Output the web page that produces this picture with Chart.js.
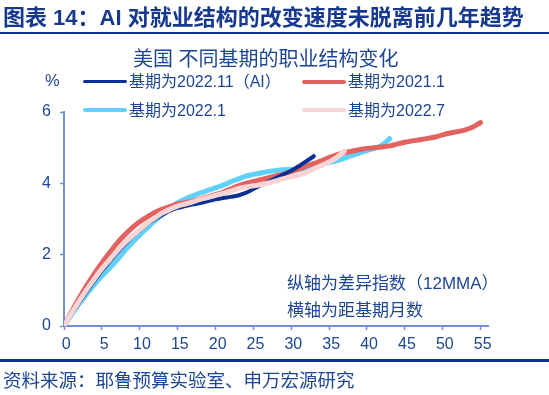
<!DOCTYPE html>
<html>
<head>
<meta charset="utf-8">
<script src="https://cdn.jsdelivr.net/npm/chart.js@4.4.1/dist/chart.umd.min.js"></script>
<style>
  html, body { margin: 0; padding: 0; background: #fff; }
  #wrap { position: relative; width: 549px; height: 395px; overflow: hidden;
          font-family: "Liberation Sans", "Noto Sans CJK SC", sans-serif; color: #1d4596; }
  #wrap canvas { position: absolute; left: 0; top: 0; }
  .t { position: absolute; white-space: nowrap; line-height: 1; }
  .rule { position: absolute; left: 0; width: 549px; background: #0e3290; }
  .key { position: absolute; height: 0; border-radius: 3px; }
</style>
</head>
<body>
<div id="wrap">
  <canvas id="jobChart" width="549" height="395" style="width:549px;height:395px"></canvas>

  <div class="t" style="left:3px;top:7px;font-size:22px;font-weight:bold;color:#16398f">图表 14：AI 对就业结构的改变速度未脱离前几年趋势</div>
  <div class="rule" style="top:32px;height:2px"></div>

  <div class="t" style="left:133px;top:49px;font-size:20px">美国 不同基期的职业结构变化</div>
  <div class="t" style="left:45px;top:72px;font-size:16.5px">%</div>

  <div id="legend"></div>

  <div class="t" style="left:287px;top:275px;font-size:17px">纵轴为差异指数（12MMA）</div>
  <div class="t" style="left:287px;top:302px;font-size:17px">横轴为距基期月数</div>

  <div class="rule" style="top:359px;height:3px"></div>
  <div class="t" style="left:3px;top:372px;font-size:18.5px">资料来源：耶鲁预算实验室、申万宏源研究</div>
</div>

<script>
// values, one point per month after the base period
const base202211 = [0, 0.34, 0.66, 0.97, 1.27, 1.55, 1.8, 2.05, 2.28, 2.5,
  2.68, 2.86, 3.0, 3.12, 3.23, 3.31, 3.36, 3.41, 3.45, 3.5,
  3.55, 3.59, 3.62, 3.66, 3.73, 3.84, 3.95, 4.05, 4.15, 4.25,
  4.35, 4.48, 4.62, 4.76];
const base202101 = [0, 0.4, 0.78, 1.13, 1.46, 1.77, 2.05, 2.32, 2.55, 2.75,
  2.92, 3.06, 3.18, 3.28, 3.35, 3.42, 3.46, 3.5, 3.56, 3.62,
  3.68, 3.75, 3.84, 3.93, 4.0, 4.05, 4.1, 4.16, 4.21, 4.26,
  4.33, 4.4, 4.48, 4.56, 4.63, 4.72, 4.8, 4.86, 4.9, 4.94,
  4.98, 5.0, 5.02, 5.05, 5.1, 5.15, 5.19, 5.22, 5.26, 5.3,
  5.36, 5.41, 5.45, 5.5, 5.58, 5.7];
const base202201 = [0, 0.32, 0.62, 0.9, 1.16, 1.4, 1.62, 1.85, 2.1, 2.33,
  2.55, 2.75, 2.95, 3.12, 3.3, 3.45, 3.56, 3.65, 3.73, 3.8,
  3.87, 3.95, 4.04, 4.12, 4.2, 4.25, 4.29, 4.33, 4.36, 4.38,
  4.39, 4.4, 4.43, 4.48, 4.53, 4.58, 4.63, 4.7, 4.78, 4.85,
  4.92, 4.98, 5.07, 5.25];
const base202207 = [0, 0.36, 0.7, 1.02, 1.32, 1.6, 1.85, 2.1, 2.33, 2.52,
  2.7, 2.88, 3.03, 3.17, 3.27, 3.36, 3.42, 3.48, 3.55, 3.6,
  3.66, 3.72, 3.78, 3.85, 3.9, 3.93, 3.96, 4.01, 4.07, 4.13,
  4.18, 4.23, 4.3, 4.4, 4.5, 4.6, 4.72, 4.9];

const seriesNames = ["基期为2022.11（AI）", "基期为2021.1", "基期为2022.1", "基期为2022.7"];
const xTicks = [0, 5, 10, 15, 20, 25, 30, 35, 40, 45, 50, 55];
const yTicks = [0, 2, 4, 6];

const textColor = "#1d4596";
const axisColor = "#7191d6";
const tickFont = { family: "Liberation Sans", size: 16 };

const toXY = arr => arr.map((v, i) => ({ x: i, y: v }));

const sets = [
  { label: seriesNames[0], data: toXY(base202211), borderColor: "#0b3093", borderWidth: 4, order: 2 },
  { label: seriesNames[1], data: toXY(base202101), borderColor: "#e2625f", borderWidth: 5, order: 3 },
  { label: seriesNames[2], data: toXY(base202201), borderColor: "#5fd1fb", borderWidth: 5, order: 4 },
  { label: seriesNames[3], data: toXY(base202207), borderColor: "#f9d4d4", borderWidth: 5, order: 1 },
];

// legend, two per row
const legendPos = [[83, 82], [302, 82], [83, 110.5], [302, 110.5]];
const legend = document.getElementById("legend");
sets.forEach((s, i) => {
  const [lx, ly] = legendPos[i];
  const w = i === 0 ? 3.5 : 4.5;
  const key = document.createElement("div");
  key.className = "key";
  key.style.cssText = `left:${lx}px;top:${ly - w / 2}px;width:44px;border-top:${w}px solid ${s.borderColor}`;
  legend.appendChild(key);
  const txt = document.createElement("div");
  txt.className = "t";
  txt.style.cssText = `left:${lx + 46}px;top:${ly - 8}px;font-size:16px`;
  txt.textContent = s.label;
  legend.appendChild(txt);
});

const ctx = document.getElementById("jobChart").getContext("2d");
new Chart(ctx, {
  type: "line",
  data: { datasets: sets },
  options: {
    responsive: false,
    animation: false,
    devicePixelRatio: 1,
    layout: { padding: { left: 0, right: 61, top: 112, bottom: 39 } },
    plugins: { legend: { display: false }, tooltip: { enabled: false } },
    elements: {
      point: { radius: 0 },
      line: { cubicInterpolationMode: "monotone", borderCapStyle: "round", borderJoinStyle: "round", fill: false },
    },
    scales: {
      x: {
        type: "linear",
        min: 0,
        max: 56,
        afterBuildTicks: s => { s.ticks = xTicks.map(v => ({ value: v })); },
        afterFit: s => { s.height = 30; },
        grid: { drawOnChartArea: false, tickLength: 4, tickColor: axisColor, tickWidth: 1.5 },
        border: { color: axisColor, width: 2 },
        ticks: { color: textColor, font: tickFont, padding: 5, maxRotation: 0, autoSkip: false,
                 callback: v => " " + v },
      },
      y: {
        min: 0,
        max: 6,
        afterBuildTicks: s => { s.ticks = yTicks.map(v => ({ value: v })); },
        afterFit: s => { s.width = 64; },
        grid: { drawOnChartArea: false, tickLength: 4, tickColor: axisColor, tickWidth: 1.5 },
        border: { color: axisColor, width: 2 },
        ticks: { color: textColor, font: tickFont, padding: 9 },
      },
    },
  },
});
</script>
</body>
</html>
